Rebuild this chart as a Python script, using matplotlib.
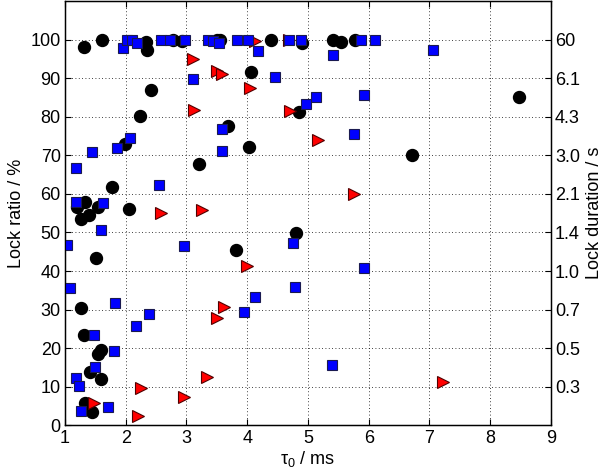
import matplotlib
matplotlib.use('Agg')
import matplotlib.pyplot as plt

plt.rcParams['font.family'] = ['Liberation Sans', 'DejaVu Sans']
plt.rcParams['mathtext.default'] = 'regular'

# black circles: (tau0 / ms, lock ratio / %)
circle_x = [1.32, 1.61, 2.33, 2.35, 2.78, 2.92, 3.50, 3.56, 4.39, 4.91, 5.42, 5.55, 5.77,
            2.42, 4.07, 2.23, 3.69, 1.99, 4.03, 6.72, 8.47, 4.85, 3.21, 1.78, 1.33, 1.19,
            1.27, 1.40, 1.55, 2.06, 3.81, 1.51, 4.81, 1.27, 1.31, 1.60, 1.54, 1.41, 1.59,
            1.33, 1.45]
circle_y = [98.0, 100, 99.4, 97.2, 100, 99.6, 100, 100, 100, 99.2, 99.8, 99.3, 100,
            87.0, 91.6, 80.2, 77.6, 73.0, 72.2, 70.1, 85.2, 81.2, 67.7, 61.9, 57.8, 56.5,
            53.5, 54.4, 56.5, 56.2, 45.5, 43.3, 49.8, 30.5, 23.4, 19.5, 18.5, 13.9, 12.1,
            5.7, 3.5]

# blue squares
square_x = [1.96, 2.02, 2.10, 2.19, 2.58, 2.73, 2.98, 3.36, 3.44, 3.54, 3.84, 4.02, 4.17,
            4.69, 4.88, 5.42, 5.87, 6.11, 7.06, 3.10, 4.46, 5.92, 5.14, 4.96, 3.59, 5.76,
            2.07, 1.85, 1.44, 3.58, 1.18, 2.55, 1.18, 1.63, 1.60, 1.04, 2.96, 4.75, 5.93,
            4.79, 1.08, 1.83, 4.13, 2.39, 3.94, 2.17, 1.47, 1.81, 1.49, 5.40, 1.18, 1.23,
            1.70, 1.26]
square_y = [97.9, 100, 100, 99.0, 100, 99.8, 99.8, 100, 99.6, 99.0, 99.8, 99.8, 97.0,
            100, 100, 96.0, 100, 100, 97.3, 89.9, 90.3, 85.5, 85.1, 83.4, 76.9, 75.6,
            74.6, 72.0, 70.8, 71.1, 66.8, 62.3, 58.0, 57.6, 50.7, 46.8, 46.6, 47.2, 40.8,
            35.9, 35.5, 31.7, 33.4, 29.0, 29.4, 25.7, 23.4, 19.3, 15.2, 15.6, 12.2, 10.2,
            4.8, 3.8]

# red triangles
tri_x = [3.11, 3.50, 3.59, 4.05, 3.13, 4.70, 5.17, 5.75, 2.58, 3.25, 4.00, 3.61, 3.50,
         3.34, 2.25, 2.96, 2.21, 1.48, 7.23, 4.13, 4.68]
tri_y = [95.0, 91.8, 91.0, 87.4, 81.7, 81.5, 73.9, 60.0, 55.1, 55.7, 41.4, 30.7, 27.8,
         12.6, 9.6, 7.3, 2.4, 5.7, 11.3, 99.5, 100]

left_ticks = list(range(0, 101, 10))
right_ticks = list(range(10, 101, 10))
right_labels = ['0.3', '0.5', '0.7', '1.0', '1.4', '2.1', '3.0', '4.3', '6.1', '60']

fs = 13

fig = plt.figure(figsize=(6.04, 4.75), dpi=100)
ax = fig.add_axes([0.1076, 0.1044, 0.8045, 0.8936])

ax.plot(circle_x, circle_y, 'o', color='black', markersize=8.6, zorder=3)
ax.plot(tri_x, tri_y, '>', markerfacecolor='red', markeredgecolor='#500000',
        markeredgewidth=0.8, markersize=9, zorder=4)
ax.plot(square_x, square_y, 's', markerfacecolor='#0000ff', markeredgecolor='#1a1a50',
        markeredgewidth=0.8, markersize=7.6, zorder=5)

ax.set_xlim(1, 9)
ax.set_ylim(0, 110)
ax.set_xticks(range(1, 10))
ax.set_yticks(left_ticks)
ax.tick_params(direction='in', labelsize=fs, top=True, length=4, pad=3)
ax.grid(True, linestyle=(0, (1, 3)), color='black', linewidth=0.6)
for s in ax.spines.values():
    s.set_linewidth(1.0)

ax.set_xlabel(r'τ$_0$ / ms', fontsize=fs, labelpad=2)
ax.set_ylabel('Lock ratio / %', fontsize=fs, labelpad=4)

ax2 = ax.twinx()
ax2.set_ylim(0, 110)
ax2.set_yticks(right_ticks)
ax2.set_yticklabels(right_labels)
ax2.tick_params(direction='in', labelsize=fs, length=4, pad=3)
ax2.set_ylabel('Lock duration / s', fontsize=fs, labelpad=4)

fig.savefig('out.png', dpi=100)
